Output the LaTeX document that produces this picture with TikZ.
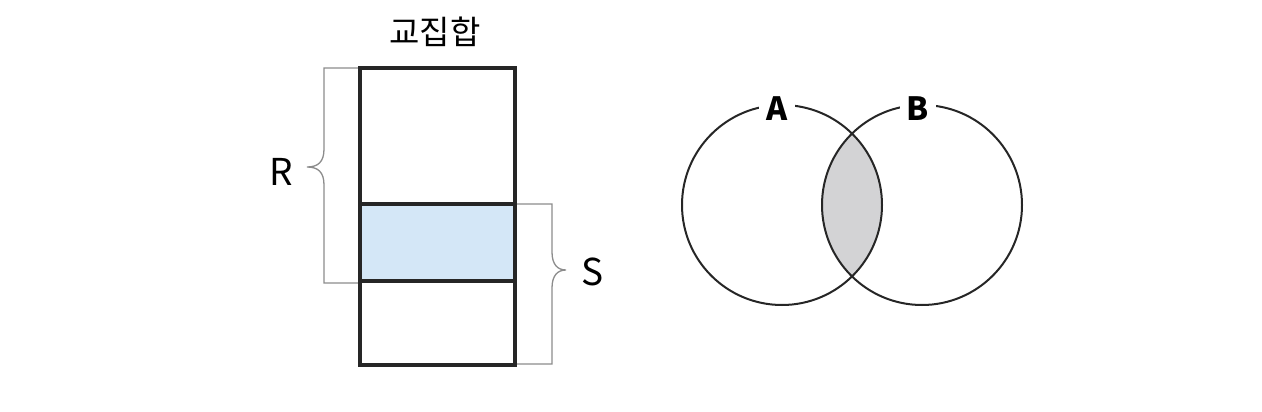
\documentclass[tikz,border=0pt]{standalone}
\usepackage{fontspec}
\setmainfont{Noto Sans CJK KR}
\usetikzlibrary{calc}

\begin{document}
\begin{tikzpicture}[x=1pt, y=-1pt]
\def\r{100}
\definecolor{lightblue}{HTML}{D4E7F7}
\definecolor{lensgray}{HTML}{D3D3D5}
\definecolor{bracegray}{HTML}{8C8C8C}
\tikzset{
  thickbox/.style={line width=3.8pt, draw=black!85},
  bracket/.style={line width=1.3pt, draw=bracegray},
  setlabel/.style={fill=white, inner xsep=7pt, inner ysep=3pt, font=\fontsize{32}{34}\selectfont\bfseries}
}
\useasboundingbox (0, 0) rectangle (1262, 412);

% table rows
\coordinate (tl) at (360, 68);
\coordinate (br) at (515, 365);
\coordinate (m1l) at (360, 204);
\coordinate (m1r) at (515, 204);
\coordinate (m2l) at (360, 281);
\coordinate (m2r) at (515, 281);

\fill [lightblue] (m1l) rectangle (m2r);

\draw [bracket] (tl) -- (324, 68) -- (324, 149)
  .. controls (324, 162) and (318, 167) .. (307, 167)
  .. controls (318, 167) and (324, 172) .. (324, 185) -- (324, 283) -- (360, 283);
\draw [bracket] (m1r) -- (552, 204) -- (552, 252)
  .. controls (552, 265) and (558, 270) .. (566, 270)
  .. controls (558, 270) and (552, 275) .. (552, 288) -- (552, 364) -- (515, 364);

\draw [thickbox] (tl) rectangle (br);
\draw [thickbox] (m1l) -- (m1r);
\draw [thickbox] (m2l) -- (m2r);

\node (title) at (435, 32) {\fontsize{33}{35}\selectfont 교집합};
\node (rlab) at (281, 172) {\fontsize{37}{39}\selectfont R};
\node (slab) at (593, 272) {\fontsize{37}{39}\selectfont S};

% venn
\coordinate (ca) at (782, 205);
\coordinate (cb) at (922, 205);
\begin{scope}
  \clip (ca) circle [radius=\r];
  \fill [lensgray] (cb) circle [radius=\r];
\end{scope}
\draw [line width=2pt, draw=black!85] (ca) circle [radius=\r];
\draw [line width=2pt, draw=black!85] (cb) circle [radius=\r];

\node [setlabel] (alab) at (777, 109) {A};
\node [setlabel] (blab) at (918, 109) {B};
\end{tikzpicture}
\end{document}
